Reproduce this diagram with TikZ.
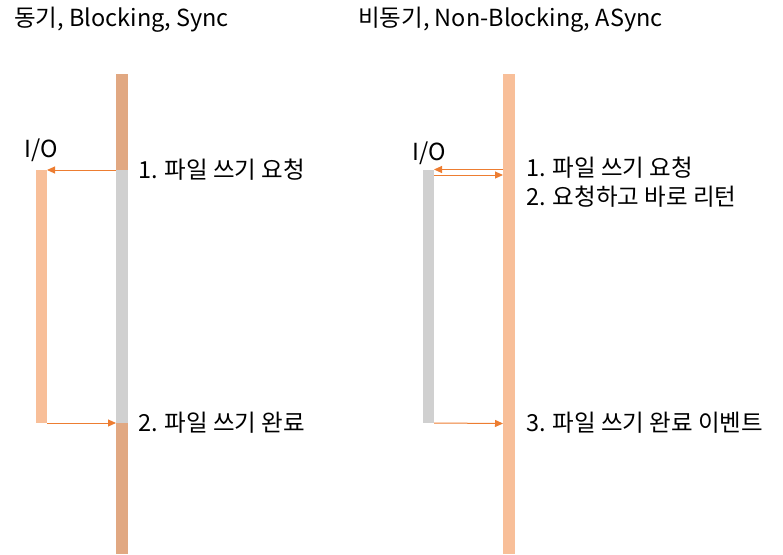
\documentclass[tikz,border=0pt]{standalone}
\usepackage{fontspec}
\setmainfont{Noto Sans CJK KR}
\usepackage{tikz}
\usetikzlibrary{arrows.meta}
\definecolor{barDark}{HTML}{E1A882}
\definecolor{barLight}{HTML}{F8BF99}
\definecolor{barGray}{HTML}{D0D0D0}
\definecolor{arrowOrange}{HTML}{ED7D31}
\tikzset{
  bar/.style={rectangle, inner sep=0pt, outer sep=0pt, minimum width=12pt, anchor=north west},
  conn/.style={draw=arrowOrange, line width=1pt, -{Triangle[length=8pt,width=7pt]}},
  lbl/.style={anchor=west, inner sep=0pt, font=\fontsize{23.5}{28}\selectfont},
}
\begin{document}
\begin{tikzpicture}[x=1pt, y=-1pt]
        \useasboundingbox (0,0) rectangle (783,554);
        % titles
        \node[lbl] (titleS) at (14,20) {동기, Blocking, Sync};
        \node[lbl] (titleA) at (358,20) {비동기, Non-Blocking, ASync};
        % sync side
        \node[bar, fill=barDark, minimum height=96pt] (topS) at (116,74) {};
        \node[bar, fill=barGray, minimum height=254pt] (waitS) at (116,170) {};
        \node[bar, fill=barDark, minimum height=131pt] (endS) at (116,423) {};
        \node[bar, fill=barLight, minimum width=11pt, minimum height=253pt] (ioS) at (36,170) {};
        \node[lbl, anchor=center] (ioLabelS) at (41.5,150) {I/O};
        \draw[conn] (waitS.north west) -- (ioS.north east);
        \draw[conn] (ioS.south east) -- (endS.north west);
        \node[lbl] (reqS) at (138,170) {1. 파일 쓰기 요청};
        \node[lbl] (doneS) at (138,423) {2. 파일 쓰기 완료};
        % async side
        \node[bar, fill=barLight, minimum height=480pt] (mainA) at (503,74) {};
        \node[bar, fill=barGray, minimum width=11pt, minimum height=253pt] (ioA) at (423,170) {};
        \node[lbl, anchor=center] (ioLabelA) at (429,153) {I/O};
        \coordinate (reqFrom) at (503,169.5);
        \coordinate (reqTo) at (434,169.5);
        \coordinate (retFrom) at (434,175);
        \coordinate (retTo) at (503,175);
        \coordinate (doneTo) at (503,423.5);
        \draw[conn] (reqFrom) -- (reqTo);
        \draw[conn] (retFrom) -- (retTo);
        \draw[conn] (ioA.south east) -- (doneTo);
        \node[lbl] (reqA) at (526,168) {1. 파일 쓰기 요청};
        \node[lbl] (retA) at (526,197) {2. 요청하고 바로 리턴};
        \node[lbl] (doneA) at (526,423) {3. 파일 쓰기 완료 이벤트};
    \end{tikzpicture}
\end{document}
